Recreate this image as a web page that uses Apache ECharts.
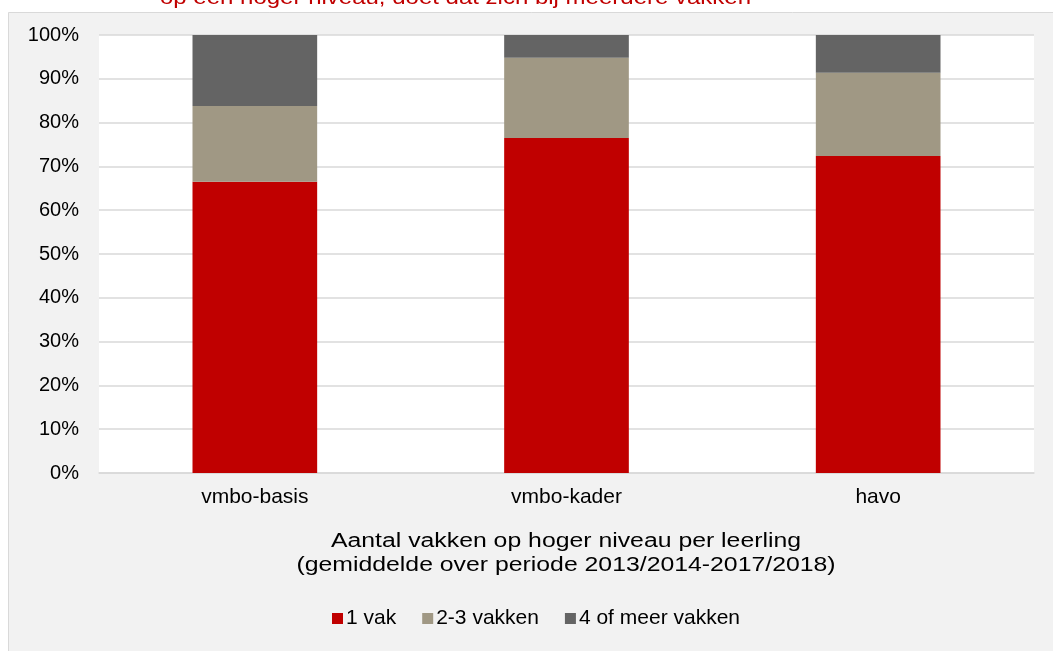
<!DOCTYPE html>
<html>
<head>
<meta charset="utf-8">
<script src="https://cdn.jsdelivr.net/npm/echarts@6/dist/echarts.min.js"></script>
<style>html,body{margin:0;padding:0;background:#fff;}#c{width:1053px;height:651px;}</style>
</head>
<body>
<div id="c"></div>
<script>
const categories = ['vmbo-basis', 'vmbo-kader', 'havo'];
const seriesNames = ['1 vak', '2-3 vakken', '4 of meer vakken'];
const vak1 = [66.5, 76.5, 72.4];
const vak23 = [17.3, 18.3, 19.0];
const vak4plus = [16.2, 5.2, 8.6];
const yTicks = [0, 10, 20, 30, 40, 50, 60, 70, 80, 90, 100];
const axisTitle = 'Aantal vakken op hoger niveau per leerling\n(gemiddelde over periode 2013/2014-2017/2018)';
const cutTitle = 'op een hoger niveau, doet dat zich bij meerdere vakken';

const FONT = '"Liberation Sans", Arial, sans-serif';
const colors = ['#c00000', '#a09884', '#646464'];
const chart = echarts.init(document.getElementById('c'), null, {renderer: 'canvas'});
const data = [vak1, vak23, vak4plus];

chart.setOption({
  backgroundColor: '#ffffff',
  animation: false,
  textStyle: {fontFamily: FONT},
  graphic: [
    {type: 'rect', z: -10, shape: {x: 8.5, y: 12.5, width: 1060, height: 660},
     style: {fill: '#f2f2f2', stroke: '#d9d9d9', lineWidth: 1}},
    {type: 'text', x: 160, y: 8, scaleX: 1.2, z: 10,
     style: {text: cutTitle, fill: '#c00000', font: '20px ' + FONT, lineHeight: 20, align: 'left', verticalAlign: 'bottom'}},
    {type: 'text', x: 566, y: 553, scaleX: 1.24, z: 10,
     style: {text: axisTitle, fill: '#000', font: '20px ' + FONT, lineHeight: 24, align: 'center', verticalAlign: 'middle'}}
  ],
  grid: {left: 99, right: 19, top: 35, bottom: 178, backgroundColor: '#ffffff', show: true, borderWidth: 0},
  legend: {
    bottom: 17, left: 327,
    itemWidth: 11, itemHeight: 11, itemGap: 26,
    icon: 'rect',
    textStyle: {fontSize: 21, color: '#000', fontFamily: FONT, padding: [0, 0, 0, -2]},
    data: seriesNames
  },
  xAxis: {
    type: 'category',
    data: categories,
    axisLine: {lineStyle: {color: '#d9d9d9', width: 1.5}},
    axisTick: {show: false},
    axisLabel: {fontSize: 21, color: '#000', margin: 14, fontFamily: FONT}
  },
  yAxis: {
    type: 'value',
    min: 0, max: 100, interval: 10,
    axisLine: {show: false},
    axisTick: {show: false},
    splitLine: {lineStyle: {color: '#d9d9d9', width: 1.5}},
    axisLabel: {fontSize: 20, color: '#000', margin: 20, fontFamily: FONT,
      formatter: v => yTicks.includes(v) ? v + '%' : ''}
  },
  series: seriesNames.map((n, i) => ({
    name: n, type: 'bar', stack: 'total', barWidth: '40%',
    itemStyle: {color: colors[i]},
    data: data[i]
  }))
});
</script>
</body>
</html>
